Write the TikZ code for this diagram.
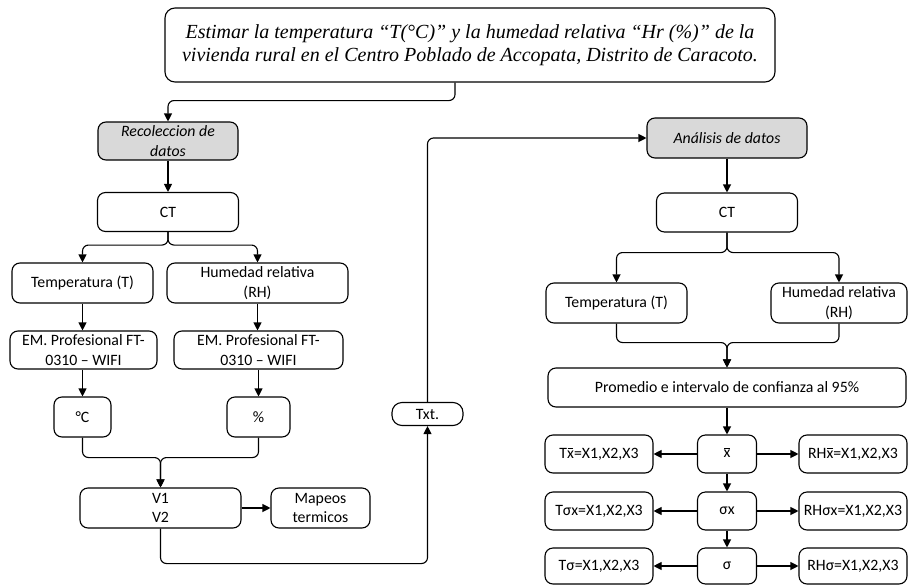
\documentclass[tikz,border=0pt]{standalone}
\usepackage{fontspec}
\setmainfont{Carlito}
\newfontfamily\titlefont{Liberation Serif}
\usetikzlibrary{arrows.meta,calc}
\newcommand\xbr{\ooalign{x\cr\hidewidth\rule[1.2ex]{0.36em}{0.07em}\hidewidth\cr}}
\tikzset{
  box/.style={draw, line width=1.1pt, rounded corners=8pt, fill=white, align=center, inner sep=2pt,
    font=\fontsize{15.8}{19.5}\selectfont},
  greybox/.style={box, fill=black!15, font=\fontsize{15.8}{19.5}\selectfont\itshape},
  titlebox/.style={draw, line width=1.1pt, rounded corners=10pt, align=center, inner sep=2pt,
    font=\titlefont\fontsize{20}{22.5}\selectfont\itshape},
  conn/.style={line width=1.1pt, rounded corners=6pt, -{Triangle[length=8pt,width=8pt]}},
}
\begin{document}
\begin{tikzpicture}[x=1pt,y=-1pt]
\useasboundingbox (0,0) rectangle (908,584);
\node[titlebox, minimum width=610pt, minimum height=74pt] (top) at (470,45)
  {Estimar la temperatura “T(°C)” y la humedad relativa “Hr (\%)” de la\\vivienda rural en el Centro Poblado de Accopata, Distrito de Caracoto.};
% left column
\node[greybox, minimum width=140pt, minimum height=38pt] (rec) at (168,141) {Recoleccion de\\datos};
\node[box, minimum width=141pt, minimum height=39pt] (ct1) at (168,212) {CT};
\node[box, minimum width=141pt, minimum height=40pt] (t1) at (82.5,283) {Temperatura (T)};
\node[box, minimum width=181pt, minimum height=40pt] (h1) at (257.5,283) {Humedad relativa\\(RH)};
\node[box, minimum width=147pt, minimum height=38pt] (em1) at (83.5,350) {EM. Profesional FT-\\0310 – WIFI};
\node[box, minimum width=169pt, minimum height=38pt] (em2) at (258.5,350) {EM. Profesional FT-\\0310 – WIFI};
\node[box, minimum width=57pt, minimum height=40pt] (c1) at (82.5,417) {°C};
\node[box, minimum width=63pt, minimum height=40pt] (p1) at (258.5,417) {\%};
\node[box, minimum width=161pt, minimum height=40pt] (v) at (160.5,508) {V1\\V2};
\node[box, minimum width=99pt, minimum height=40pt] (map) at (320.5,508) {Mapeos\\termicos};
\node[box, rounded corners=10pt, minimum width=71pt, minimum height=23pt] (txt) at (427.5,414) {Txt.};
% right column
\node[greybox, minimum width=160pt, minimum height=40pt] (ana) at (727,138) {Análisis de datos};
\node[box, minimum width=141pt, minimum height=39pt] (ct2) at (727,212.5) {CT};
\node[box, minimum width=141pt, minimum height=40pt] (t2) at (616.5,303) {Temperatura (T)};
\node[box, minimum width=136pt, minimum height=40pt] (h2) at (839,303) {Humedad relativa\\(RH)};
\node[box, minimum width=358pt, minimum height=39pt] (prom) at (727,387.5) {Promedio e intervalo de confianza al 95\%};
\node[box, minimum width=59pt, minimum height=38pt] (xb) at (727,454) {\xbr};
\node[box, minimum width=108pt, minimum height=38pt] (tx) at (599,454) {T\xbr=X1,X2,X3};
\node[box, minimum width=108pt, minimum height=38pt] (rhx) at (853,454) {RH\xbr=X1,X2,X3};
\node[box, minimum width=59pt, minimum height=38pt] (sx) at (727,511) {σx};
\node[box, minimum width=108pt, minimum height=38pt] (tsx) at (599,511) {Tσx=X1,X2,X3};
\node[box, minimum width=108pt, minimum height=38pt] (rhsx) at (853,511) {RHσx=X1,X2,X3};
\node[box, minimum width=59pt, minimum height=36pt] (sg) at (727,566) {σ};
\node[box, minimum width=108pt, minimum height=36pt] (tsg) at (599,566) {Tσ=X1,X2,X3};
\node[box, minimum width=108pt, minimum height=36pt] (rhsg) at (853,566) {RHσ=X1,X2,X3};
% connectors left
\draw[conn] ([xshift=-15pt]top.south) -- ++(0,18) -| (rec.north);
\draw[conn] (rec.south) -- (ct1.north);
\draw[conn] (ct1.south) -- ++(0,13) -| (t1.north);
\draw[conn] (ct1.south) -- ++(0,13) -| (h1.north);
\draw[conn] (t1.south) -- (em1.north -| t1.south);
\draw[conn] (h1.south) -- (em2.north -| h1.south);
\draw[conn] (em1.south -| c1.north) -- (c1.north);
\draw[conn] (em2.south -| p1.north) -- (p1.north);
\draw[conn] (c1.south) -- ++(0,20) -| (v.north);
\draw[conn] (p1.south) -- ++(0,20) -| (v.north);
\draw[conn] (v.east) -- (map.west);
\draw[conn] (v.south) -- ++(0,35) -| (txt.south);
\draw[conn] (txt.north) |- (ana.west);
% connectors right
\draw[conn] (ana.south) -- (ct2.north);
\draw[conn] (ct2.south) -- ++(0,20) -| (t2.north);
\draw[conn] (ct2.south) -- ++(0,20) -| (h2.north);
\draw[conn] (t2.south) -- ++(0,19) -| (prom.north);
\draw[conn] (h2.south) -- ++(0,19) -| (prom.north);
\draw[conn] (prom.south) -- (xb.north);
\draw[conn] (xb.south) -- (sx.north);
\draw[conn] (sx.south) -- (sg.north);
\draw[conn] (xb.west) -- (tx.east);
\draw[conn] (xb.east) -- (rhx.west);
\draw[conn] (sx.west) -- (tsx.east);
\draw[conn] (sx.east) -- (rhsx.west);
\draw[conn] (sg.west) -- (tsg.east);
\draw[conn] (sg.east) -- (rhsg.west);
\end{tikzpicture}
\end{document}
